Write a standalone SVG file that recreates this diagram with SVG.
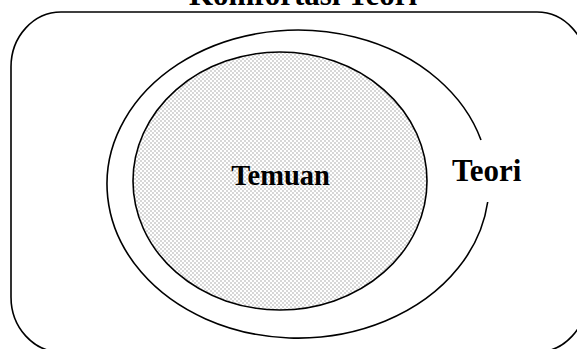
<svg xmlns="http://www.w3.org/2000/svg" width="577" height="349" viewBox="0 0 577 349">
<defs>
<pattern id="dots" width="4" height="4" patternUnits="userSpaceOnUse">
<rect width="4" height="4" fill="#ffffff"/>
<circle cx="1" cy="1" r="0.9" fill="#c4c4c4"/>
<circle cx="3" cy="3" r="0.9" fill="#c4c4c4"/>
</pattern>
</defs>
<style>
.line{fill:none;stroke:#000;stroke-width:1.6}
.lbl{font-family:"Liberation Serif","Times New Roman",serif;font-weight:bold;fill:#000}
</style>
<rect width="577" height="349" fill="#ffffff"/>
<text class="lbl" x="303" y="5" font-size="31" text-anchor="middle">Komfortasi Teori</text>
<g id="frame">
<rect class="line" x="11" y="12" width="576" height="340" rx="50" ry="55"/>
</g>
<g id="teori">
<path class="line" d="M 487.7 202 A 191 154 0 1 1 481 140"/>
<text class="lbl" x="452" y="181" font-size="31">Teori</text>
</g>
<g id="temuan">
<ellipse cx="280" cy="181" rx="147" ry="129" fill="url(#dots)" stroke="#000" stroke-width="1.6"/>
<text class="lbl" x="280.5" y="185" font-size="28.5" text-anchor="middle">Temuan</text>
</g>
<g id="connectors"/>
</svg>
